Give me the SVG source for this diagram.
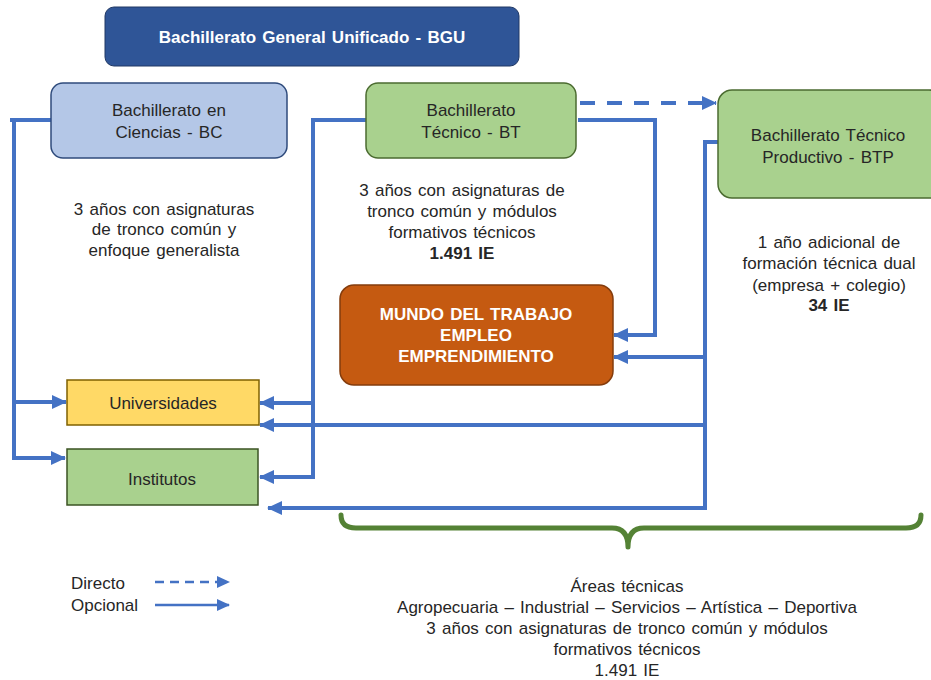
<svg xmlns="http://www.w3.org/2000/svg" width="931" height="680" viewBox="0 0 931 680">
<style>
.t{font-family:"Liberation Sans",Arial,sans-serif;font-size:17px;word-spacing:1.5px;fill:#262626;text-anchor:middle}
.b{font-weight:bold}
.w{fill:#ffffff;font-weight:bold}
.c{fill:none;stroke:#4472C4;stroke-width:4}
.l{font-family:"Liberation Sans",Arial,sans-serif;font-size:17px;fill:#262626}
</style>
<defs>
<marker id="ah" markerUnits="userSpaceOnUse" markerWidth="16" markerHeight="16" refX="14" refY="8" orient="auto">
<path d="M0,1 L15,8 L0,15 Z" fill="#4472C4"/>
</marker>
<marker id="ahs" markerUnits="userSpaceOnUse" markerWidth="14" markerHeight="14" refX="12" refY="7" orient="auto">
<path d="M0,1 L13,7 L0,13 Z" fill="#4472C4"/>
</marker>
</defs>
<rect width="931" height="680" fill="#ffffff"/>

<g id="connectors">
<path class="c" d="M10,120 H51"/>
<path class="c" d="M14,118 V458 H65" marker-end="url(#ah)"/>
<path class="c" d="M14,402 H66" marker-end="url(#ah)"/>
<path class="c" d="M366,120 H313 V477 H260" marker-end="url(#ah)"/>
<path class="c" d="M313,403 H260" marker-end="url(#ah)"/>
<path class="c" d="M578,120 H655 V335 H614" marker-end="url(#ah)"/>
<path class="c" d="M580,103 H716" stroke-dasharray="15,12" marker-end="url(#ah)"/>
<path class="c" d="M718,142 H705 V508 H268" marker-end="url(#ah)"/>
<path class="c" d="M705,357 H614" marker-end="url(#ah)"/>
<path class="c" d="M705,425 H260" marker-end="url(#ah)"/>
</g>

<g id="title">
<rect x="105" y="7" width="414" height="59" rx="9" fill="#2F5597" stroke="#203864" stroke-width="1"/>
<text class="t w" x="312" y="43">Bachillerato General Unificado - BGU</text>
</g>

<g id="bc">
<rect x="51" y="83" width="236" height="75" rx="12" fill="#B4C7E7" stroke="#2F4B7C" stroke-width="1.5"/>
<text class="t" x="169" y="116">Bachillerato en</text>
<text class="t" x="169" y="138">Ciencias - BC</text>
</g>
<g id="bc-desc">
<text class="t" x="164" y="215">3 años con asignaturas</text>
<text class="t" x="164" y="235">de tronco común y</text>
<text class="t" x="164" y="256">enfoque generalista</text>
</g>

<g id="bt">
<rect x="366" y="83" width="210" height="75" rx="12" fill="#A9D18E" stroke="#4B6B30" stroke-width="1.5"/>
<text class="t" x="471" y="116">Bachillerato</text>
<text class="t" x="471" y="138">Técnico - BT</text>
</g>
<g id="bt-desc">
<text class="t" x="462" y="196">3 años con asignaturas de</text>
<text class="t" x="462" y="217">tronco común y módulos</text>
<text class="t" x="462" y="238">formativos técnicos</text>
<text class="t b" x="462" y="259">1.491 IE</text>
</g>

<g id="btp">
<rect x="718" y="90" width="225" height="108" rx="14" fill="#A9D18E" stroke="#4B6B30" stroke-width="1.5"/>
<text class="t" x="828" y="141">Bachillerato Técnico</text>
<text class="t" x="828" y="163">Productivo - BTP</text>
</g>
<g id="btp-desc">
<text class="t" x="829" y="248">1 año adicional de</text>
<text class="t" x="829" y="269">formación técnica dual</text>
<text class="t" x="829" y="291">(empresa + colegio)</text>
<text class="t b" x="829" y="311">34 IE</text>
</g>

<g id="mundo">
<rect x="340" y="285" width="273" height="100" rx="14" fill="#C55A11" stroke="#843C0C" stroke-width="1.5"/>
<text class="t w" x="476" y="320">MUNDO DEL TRABAJO</text>
<text class="t w" x="476" y="341">EMPLEO</text>
<text class="t w" x="476" y="362">EMPRENDIMIENTO</text>
</g>

<g id="universidades">
<rect x="67" y="380" width="192" height="45" fill="#FFD966" stroke="#7F6000" stroke-width="1.5"/>
<text class="t" x="163" y="409">Universidades</text>
</g>

<g id="institutos">
<rect x="67" y="449" width="191" height="56" fill="#A9D18E" stroke="#3B5323" stroke-width="1.5"/>
<text class="t" x="162" y="485">Institutos</text>
</g>

<g id="brace">
<path d="M341,515 Q341,528 356,528 H612 Q628,528 628,547 Q628,528 644,528 H906 Q921,528 921,515" fill="none" stroke="#548235" stroke-width="5" stroke-linecap="round" stroke-linejoin="round"/>
</g>

<g id="areas">
<text class="t" x="627" y="592">Áreas técnicas</text>
<text class="t" x="627" y="613">Agropecuaria – Industrial – Servicios – Artística – Deportiva</text>
<text class="t" x="627" y="634">3 años con asignaturas de tronco común y módulos</text>
<text class="t" x="627" y="655">formativos técnicos</text>
<text class="t" x="627" y="676">1.491 IE</text>
</g>

<g id="legend">
<text class="l" x="71" y="589">Directo</text>
<text class="l" x="71" y="611">Opcional</text>
<path d="M155,582 H229" fill="none" stroke="#4472C4" stroke-width="2.5" stroke-dasharray="9,6" marker-end="url(#ahs)"/>
<path d="M155,605 H229" fill="none" stroke="#4472C4" stroke-width="2.5" marker-end="url(#ahs)"/>
</g>
</svg>
